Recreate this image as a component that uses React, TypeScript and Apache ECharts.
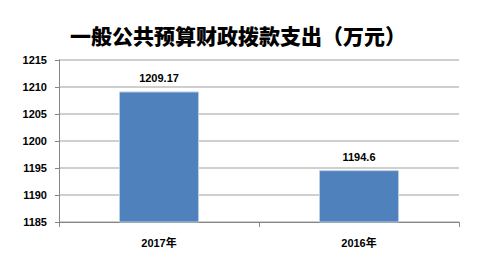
import React, { useEffect, useRef } from "react";
import * as echarts from "echarts";

const title = "一般公共预算财政拨款支出（万元）";
const categories = ["2017年", "2016年"];
const values = [1209.17, 1194.6];
const valueLabels = ["1209.17", "1194.6"];
const yMin = 1185;
const yMax = 1215;
const yInterval = 5;

export default function App() {
  const ref = useRef<HTMLDivElement>(null);
  useEffect(() => {
    if (!ref.current) return;
    const chart = echarts.init(ref.current, null, { renderer: "svg" });
    const font = "'Liberation Sans', 'Noto Sans CJK SC', sans-serif";
    chart.setOption({
      animation: false,
      backgroundColor: "#ffffff",
      title: {
        text: title,
        left: 233,
        textAlign: "center",
        top: 19,
        textStyle: {
          fontFamily: "'Noto Sans CJK SC', sans-serif",
          fontWeight: 900,
          fontSize: 21,
          color: "#000000",
        },
      },
      grid: { left: 59, right: 20, top: 60, bottom: 50 },
      xAxis: {
        type: "category",
        data: categories,
        axisLine: { lineStyle: { color: "#868686", width: 1 } },
        axisTick: { show: true, alignWithLabel: false, length: 5, lineStyle: { color: "#868686" } },
        axisLabel: {
          margin: 15,
          fontFamily: font,
          fontWeight: "bold",
          fontSize: 11,
          color: "#000000",
        },
      },
      yAxis: {
        type: "value",
        min: yMin,
        max: yMax,
        interval: yInterval,
        axisLine: { show: true, lineStyle: { color: "#868686", width: 1 } },
        axisTick: { show: true, length: 4, inside: false, lineStyle: { color: "#868686" } },
        splitLine: { show: true, lineStyle: { color: "#BFBFBF", width: 1.5 } },
        axisLabel: {
          margin: 12,
          fontFamily: font,
          fontWeight: "bold",
          fontSize: 11,
          color: "#000000",
          formatter: (v: number) => String(v),
        },
      },
      series: [
        {
          type: "bar",
          data: values,
          barWidth: "40%",
          itemStyle: { color: "#4F81BD", borderColor: "#B9CDE5", borderWidth: 1 },
          label: {
            show: true,
            position: "top",
            distance: 8,
            fontFamily: font,
            fontWeight: "bold",
            fontSize: 11,
            color: "#000000",
            formatter: (p: any) => valueLabels[p.dataIndex],
          },
        },
      ],
    });
    return () => chart.dispose();
  }, []);
  return (
    <div
      ref={ref}
      style={{ position: "fixed", left: 0, top: 0, width: 479, height: 272 }}
    />
  );
}
